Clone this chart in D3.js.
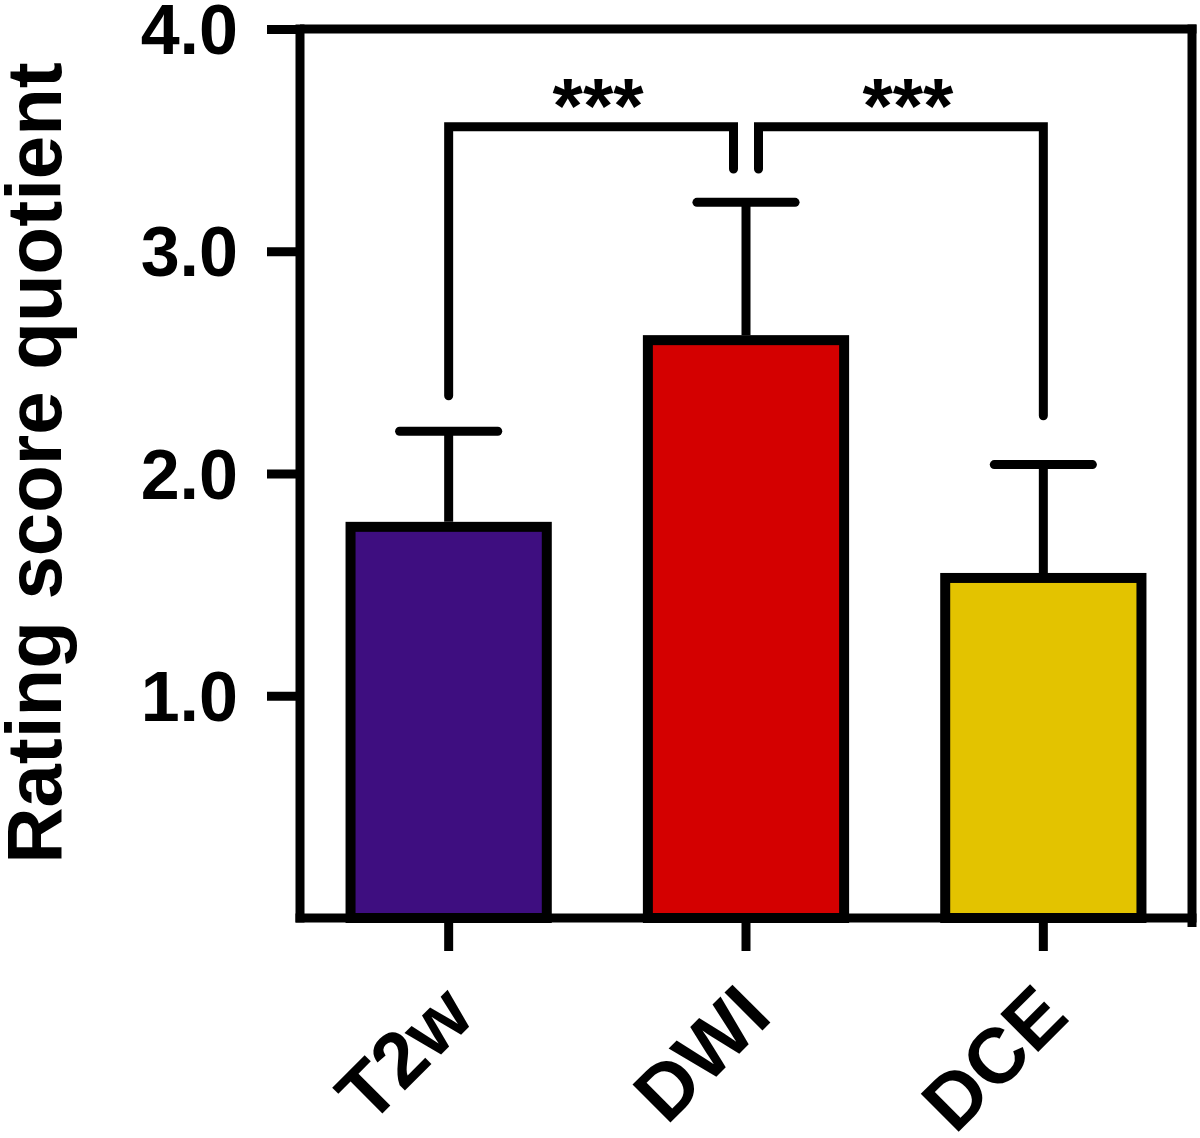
<!DOCTYPE html>
<html>
<head>
<meta charset="utf-8">
<script src="https://cdn.jsdelivr.net/npm/d3@7"></script>
<style>
  html, body { margin: 0; padding: 0; background: #fff; }
  svg { display: block; }
  text { font-family: "Liberation Sans", Arial, sans-serif; font-weight: bold; fill: #000; }
</style>
</head>
<body>
<svg id="chart" width="1200" height="1138"></svg>
<script>
// ---- data ----
const categories = ["T2w", "DWI", "DCE"];
const means = [1.76, 2.60, 1.53];
const errors = [0.43, 0.62, 0.51];
const barColors = ["#3E0E80", "#D40000", "#E3C300"];
const yTickValues = [1.0, 2.0, 3.0, 4.0];
const yTitle = "Rating score quotient";
// significance brackets
const bracketLeft = ["T2w", "DWI"];
const bracketRight = ["DWI", "DCE"];
const bracketLeftEnd = [2.35, 3.37];
const bracketRightEnd = [3.37, 2.26];
const bracketTop = [3.56, 3.56];
const bracketLabels = ["***", "***"];

// ---- layout ----
const svg = d3.select("#chart");
const mLeft = 300, mRight = 1192, mTop = 29, mBottom = 918;
const lw = 9;

const x = d3.scaleBand().domain(categories).range([mLeft, mRight])
  .paddingInner(0.34).paddingOuter(0.17);
const y = d3.scaleLinear().domain([0, 4]).range([mBottom, mTop]);
const cx = c => x(c) + x.bandwidth() / 2;

// bars
svg.append("g").selectAll("rect").data(categories).join("rect")
  .attr("x", d => x(d))
  .attr("y", (d, i) => y(means[i]))
  .attr("width", x.bandwidth())
  .attr("height", (d, i) => y(0) - y(means[i]))
  .attr("fill", (d, i) => barColors[i])
  .attr("stroke", "#000")
  .attr("stroke-width", 10);

// error bars (upper only)
const eb = svg.append("g").attr("stroke", "#000").attr("stroke-width", lw);
eb.selectAll("line.v").data(categories).join("line").attr("class", "v")
  .attr("x1", d => cx(d)).attr("x2", d => cx(d))
  .attr("y1", (d, i) => y(means[i]) - 5)
  .attr("y2", (d, i) => y(means[i] + errors[i]));
eb.selectAll("line.c").data(categories).join("line").attr("class", "c")
  .attr("stroke-linecap", "round")
  .attr("x1", d => cx(d) - x.bandwidth() / 4)
  .attr("x2", d => cx(d) + x.bandwidth() / 4)
  .attr("y1", (d, i) => y(means[i] + errors[i]))
  .attr("y2", (d, i) => y(means[i] + errors[i]));

// y axis
const yAxis = svg.append("g").attr("transform", `translate(${mLeft},0)`)
  .call(d3.axisLeft(y).tickValues(yTickValues).tickSize(33).tickSizeOuter(0).tickFormat(d3.format(".1f")));
yAxis.select(".domain").remove();
yAxis.selectAll(".tick line").attr("stroke", "#000").attr("stroke-width", lw);
yAxis.selectAll(".tick text").attr("x", -62).attr("dy", "0.35em")
  .style("font-size", "70px").attr("text-anchor", "end");

// x axis
const xAxis = svg.append("g").attr("transform", `translate(0,${mBottom})`)
  .call(d3.axisBottom(x).tickSize(33).tickSizeOuter(0));
xAxis.select(".domain").remove();
xAxis.selectAll(".tick line").attr("stroke", "#000").attr("stroke-width", lw);
xAxis.selectAll(".tick text")
  .attr("y", 0).attr("dy", 0)
  .attr("transform", "translate(28,101) rotate(-45)")
  .attr("text-anchor", "end")
  .style("font-size", "78px");

// frame
const frame = svg.append("g").attr("stroke", "#000").attr("stroke-width", lw).attr("fill", "none");
frame.append("line").attr("x1", mLeft).attr("x2", mLeft).attr("y1", y(4) - lw / 2).attr("y2", mBottom + lw / 2);
frame.append("line").attr("x1", mLeft - lw / 2).attr("x2", mRight + lw / 2).attr("y1", mBottom).attr("y2", mBottom);
frame.append("line").attr("x1", mLeft).attr("x2", mRight + lw / 2).attr("y1", y(4)).attr("y2", y(4));
frame.append("line").attr("x1", mRight).attr("x2", mRight).attr("y1", y(4) - lw / 2).attr("y2", mBottom + 9);

// significance brackets
const gap = 12.5;
const br = svg.append("g");
bracketLabels.forEach((lab, i) => {
  const xl = cx(bracketLeft[i]) + (i === 1 ? gap : 0);
  const xr = cx(bracketRight[i]) - (i === 0 ? gap : 0);
  br.append("path")
    .attr("d", `M${xl},${y(bracketLeftEnd[i])} L${xl},${y(bracketTop[i])} L${xr},${y(bracketTop[i])} L${xr},${y(bracketRightEnd[i])}`)
    .attr("fill", "none").attr("stroke", "#000").attr("stroke-width", lw)
    .attr("stroke-linecap", "round").attr("stroke-linejoin", "miter");
  br.append("text")
    .attr("x", (xl + xr) / 2 + 7)
    .attr("y", y(bracketTop[i]) + 6)
    .attr("text-anchor", "middle")
    .style("font-size", "78px")
    .text(lab);
});

// y title
svg.append("text")
  .attr("transform", "translate(61,463) rotate(-90)")
  .attr("text-anchor", "middle")
  .style("font-size", "78px")
  .text(yTitle);
</script>
</body>
</html>
